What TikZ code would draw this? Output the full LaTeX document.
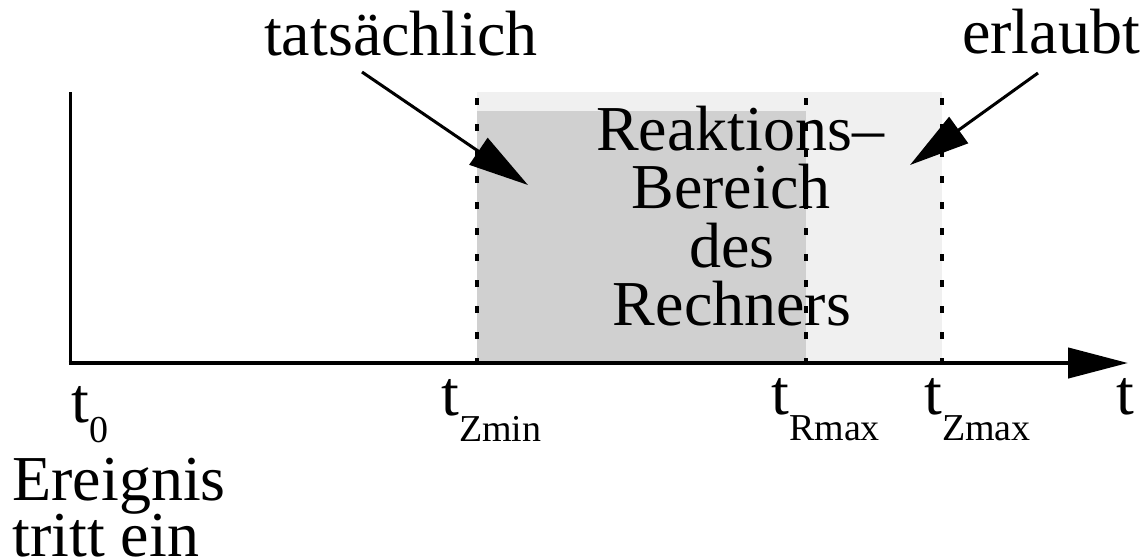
\documentclass[tikz,border=0pt]{standalone}
\usepackage{fontspec}
\setmainfont{Liberation Serif}
\usetikzlibrary{arrows.meta}
\definecolor{lightarea}{HTML}{F0F0F0}
\definecolor{darkarea}{HTML}{D0D0D0}
\newcommand{\tlabel}[2]{t\raisebox{#1}{\fontsize{19}{19}\selectfont #2}}
\tikzset{
  txt/.style={font=\fontsize{32}{29}\selectfont, inner sep=0pt, anchor=base},
  dotline/.style={line width=2pt, dash pattern=on 3.5pt off 9.5pt},
  pointer/.style={line width=1.5pt, -{Triangle[length=30pt,width=16pt]}},
  axis/.style={line width=2.2pt}
}
\begin{document}
\begin{tikzpicture}[x=0.5pt,y=-0.5pt]
\useasboundingbox (0,0) rectangle (1147,559);
% areas
\fill[lightarea] (477,92) rectangle (942,363);
\fill[darkarea] (477,111) rectangle (806,363);
% dotted boundaries
\draw[dotline] (477,98) -- (477,363);
\draw[dotline] (806,98) -- (806,363);
\draw[dotline] (942,98) -- (942,363);
% axes
\coordinate (origin) at (70,363);
\coordinate (ytop) at (70,92);
\coordinate (xend) at (1128,363);
\draw[line width=1.5pt] (ytop) -- (origin);
\draw[axis, -{Triangle[length=30pt,width=15pt]}] ([xshift=-0.75pt]origin) -- (xend);
% central text
\node[txt] (r1) at (740,150) {Reaktions--};
\node[txt] (r2) at (731,208) {Bereich};
\node[txt] (r3) at (732,267) {des};
\node[txt] (r4) at (732,325) {Rechners};
% top labels
\node[txt] (tat) at (401,55) {tatsächlich};
\node[txt] (erl) at (1051,53) {erlaubt};
\coordinate (tatstart) at (362,72);
\coordinate (tattip) at (528,185);
\coordinate (erlstart) at (1038,73);
\coordinate (erltip) at (910,165);
\draw[pointer] (tatstart) -- (tattip);
\draw[pointer] (erlstart) -- (erltip);
% axis labels
\node[txt, anchor=base west] (t0) at (71,422) {\tlabel{-10pt}{0}};
\node[txt, anchor=base west] (tzmin) at (441,415) {\tlabel{-13pt}{Zmin}};
\node[txt, anchor=base west] (trmax) at (771,414) {\tlabel{-13pt}{Rmax}};
\node[txt, anchor=base west] (tzmax) at (924,414) {\tlabel{-13pt}{Zmax}};
\node[txt, anchor=base west] (tt) at (1116,414) {t};
\node[txt, anchor=base west] (ev1) at (12,500) {Ereignis};
\node[txt, anchor=base west] (ev2) at (12,556) {tritt ein};
\end{tikzpicture}
\end{document}
